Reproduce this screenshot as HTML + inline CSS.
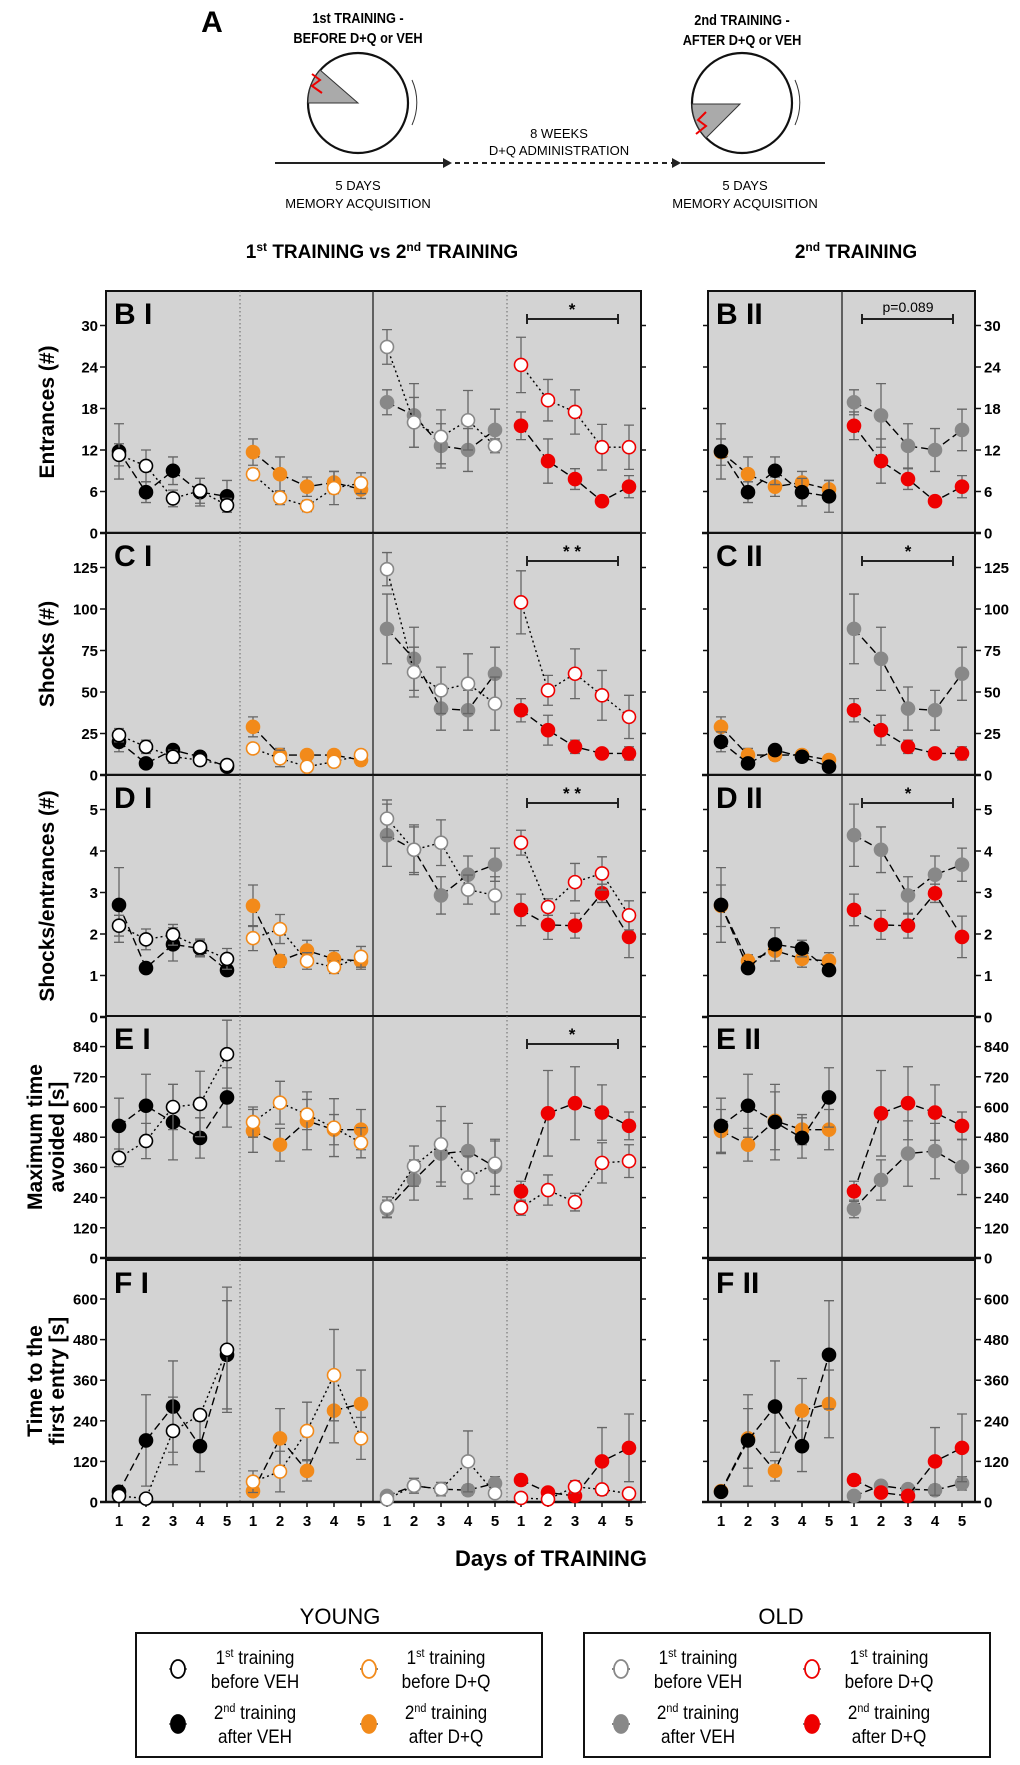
<!DOCTYPE html>
<html><head><meta charset="utf-8">
<style>
html,body{margin:0;padding:0;background:#fff;}
svg{display:block;font-family:"Liberation Sans",Arial,sans-serif;}
</style></head>
<body>
<svg id="fig" width="1020" height="1765" viewBox="0 0 1020 1765" xmlns="http://www.w3.org/2000/svg">
<g>
  <text x="212" y="32" font-size="30" font-weight="bold" text-anchor="middle">A</text>
  <text x="358" y="23" font-size="15" font-weight="bold" text-anchor="middle" transform="translate(358 0) scale(0.85 1) translate(-358 0)">1st TRAINING -</text>
  <text x="358" y="43" font-size="15" font-weight="bold" text-anchor="middle" transform="translate(358 0) scale(0.85 1) translate(-358 0)">BEFORE D+Q or VEH</text>
  <text x="742" y="25" font-size="15" font-weight="bold" text-anchor="middle" transform="translate(742 0) scale(0.85 1) translate(-742 0)">2nd TRAINING -</text>
  <text x="742" y="45" font-size="15" font-weight="bold" text-anchor="middle" transform="translate(742 0) scale(0.85 1) translate(-742 0)">AFTER D+Q or VEH</text>
  <circle cx="358" cy="103" r="50" fill="#fff" stroke="#111" stroke-width="2.2"/>
  <path d="M358 103 L308 103 A50 50 0 0 1 320 70 Z" fill="#aaa" stroke="#333" stroke-width="1"/>
  <path d="M312 74 L320 80 L312 86 L322 93" fill="none" stroke="#e00" stroke-width="2"/>
  <path d="M412 80 A55 55 0 0 1 412 125" fill="none" stroke="#333" stroke-width="1"/>
  <circle cx="742" cy="103" r="50" fill="#fff" stroke="#111" stroke-width="2.2"/>
  <path d="M740 104 L692 104 A50 50 0 0 0 706 138 Z" fill="#aaa" stroke="#333" stroke-width="1"/>
  <path d="M706 112 L698 120 L706 126 L696 134" fill="none" stroke="#e00" stroke-width="2"/>
  <path d="M795 80 A55 55 0 0 1 795 125" fill="none" stroke="#333" stroke-width="1"/>
  <line x1="275" y1="163" x2="445" y2="163" stroke="#222" stroke-width="2"/>
  <polygon points="443,158 452,163 443,168" fill="#222"/>
  <line x1="455" y1="163" x2="672" y2="163" stroke="#222" stroke-width="2" stroke-dasharray="5,4"/>
  <polygon points="672,158 681,163 672,168" fill="#222"/>
  <line x1="681" y1="163" x2="825" y2="163" stroke="#222" stroke-width="2"/>
  <text x="559" y="138" font-size="13" text-anchor="middle">8 WEEKS</text>
  <text x="559" y="155" font-size="13" text-anchor="middle">D+Q ADMINISTRATION</text>
  <text x="358" y="190" font-size="13" text-anchor="middle">5 DAYS</text>
  <text x="358" y="208" font-size="13" text-anchor="middle">MEMORY ACQUISITION</text>
  <text x="745" y="190" font-size="13" text-anchor="middle">5 DAYS</text>
  <text x="745" y="208" font-size="13" text-anchor="middle">MEMORY ACQUISITION</text>
</g>
<text x="382" y="258" font-size="19" font-weight="bold" text-anchor="middle">1<tspan font-size="12" dy="-7">st</tspan><tspan dy="7"> TRAINING   vs  2</tspan><tspan font-size="12" dy="-7">nd</tspan><tspan dy="7"> TRAINING</tspan></text>
<text x="856" y="258" font-size="19" font-weight="bold" text-anchor="middle">2<tspan font-size="12" dy="-7">nd</tspan><tspan dy="7"> TRAINING</tspan></text>
<g id="charts"></g>
<text x="551" y="1566" font-size="22" font-weight="bold" text-anchor="middle">Days of TRAINING</text>
<text x="340" y="1624" font-size="22" text-anchor="middle">YOUNG</text>
<text x="781" y="1624" font-size="22" text-anchor="middle">OLD</text>
<rect x="136" y="1633" width="406" height="124" fill="#fff" stroke="#111" stroke-width="2"/>
<rect x="584" y="1633" width="406" height="124" fill="#fff" stroke="#111" stroke-width="2"/>
<g id="legend"></g>
</svg>
<script>
// ---- data ----
const days = [1, 2, 3, 4, 5];
// B: Entrances
const entYV1 = [11.3, 9.7, 5.0, 6.1, 4.0], entYV1e = [1.6, 2.3, 1.2, 1.8, 1.0];
const entYV2 = [11.8, 5.9, 9.0, 5.9, 5.3], entYV2e = [4.0, 1.5, 2.0, 2.0, 2.3];
const entYD1 = [8.5, 5.1, 3.9, 6.5, 7.2], entYD1e = [0.8, 1.0, 0.8, 2.4, 1.5];
const entYD2 = [11.7, 8.5, 6.7, 7.3, 6.3], entYD2e = [1.9, 2.5, 1.4, 1.6, 1.3];
const entOV1 = [26.9, 16.0, 13.9, 16.3, 12.6], entOV1e = [2.5, 3.6, 3.9, 4.3, 1.0];
const entOV2 = [18.9, 17.0, 12.6, 12.0, 14.9], entOV2e = [1.8, 4.6, 3.2, 3.1, 3.0];
const entOD1 = [24.3, 19.2, 17.5, 12.4, 12.4], entOD1e = [4.0, 3.0, 3.2, 3.3, 3.2];
const entOD2 = [15.5, 10.4, 7.8, 4.6, 6.7], entOD2e = [2.0, 3.2, 1.5, 0.6, 1.6];
// C: Shocks
const shkYV1 = [24, 17, 11, 9, 6], shkYV1e = [4, 4, 4, 3, 2];
const shkYV2 = [20, 7, 15, 11, 5], shkYV2e = [6, 2, 3, 3, 2];
const shkYD1 = [16, 10, 5, 8, 12], shkYD1e = [2, 5, 3, 3, 3];
const shkYD2 = [29, 12, 12, 12, 9], shkYD2e = [6, 4, 3, 3, 3];
const shkOV1 = [124, 62, 51, 55, 43], shkOV1e = [10, 15, 14, 18, 16];
const shkOV2 = [88, 70, 40, 39, 61], shkOV2e = [21, 19, 13, 12, 16];
const shkOD1 = [104, 51, 61, 48, 35], shkOD1e = [19, 9, 15, 15, 13];
const shkOD2 = [39, 27, 17, 13, 13], shkOD2e = [7, 9, 4, 2, 4];
// D: Shocks/entrances
const ratYV1 = [2.2, 1.87, 1.98, 1.68, 1.4], ratYV1e = [0.25, 0.25, 0.25, 0.2, 0.25];
const ratYV2 = [2.7, 1.18, 1.75, 1.65, 1.13], ratYV2e = [0.9, 0.1, 0.4, 0.2, 0.1];
const ratYD1 = [1.9, 2.12, 1.35, 1.2, 1.45], ratYD1e = [0.3, 0.35, 0.2, 0.15, 0.25];
const ratYD2 = [2.68, 1.35, 1.6, 1.4, 1.35], ratYD2e = [0.5, 0.15, 0.25, 0.2, 0.2];
const ratOV1 = [4.78, 4.03, 4.2, 3.07, 2.93], ratOV1e = [0.45, 0.6, 0.55, 0.35, 0.45];
const ratOV2 = [4.38, 4.03, 2.93, 3.43, 3.67], ratOV2e = [0.75, 0.55, 0.45, 0.45, 0.4];
const ratOD1 = [4.2, 2.65, 3.25, 3.46, 2.45], ratOD1e = [0.3, 0.2, 0.45, 0.4, 0.35];
const ratOD2 = [2.58, 2.22, 2.2, 2.98, 1.93], ratOD2e = [0.38, 0.35, 0.3, 0.22, 0.5];
// E: Maximum time avoided
const maxYV1 = [398, 465, 600, 612, 810], maxYV1e = [35, 70, 90, 130, 135];
const maxYV2 = [525, 605, 540, 477, 638], maxYV2e = [110, 125, 150, 80, 118];
const maxYD1 = [540, 617, 570, 518, 458], maxYD1e = [60, 85, 60, 115, 60];
const maxYD2 = [505, 450, 545, 510, 510], maxYD2e = [85, 65, 115, 60, 80];
const maxOV1 = [203, 365, 452, 320, 375], maxOV1e = [40, 80, 150, 85, 90];
const maxOV2 = [195, 310, 415, 425, 362], maxOV2e = [35, 80, 130, 110, 110];
const maxOD1 = [200, 270, 222, 378, 385], maxOD1e = [30, 60, 35, 80, 65];
const maxOD2 = [265, 575, 615, 578, 525], maxOD2e = [40, 170, 145, 110, 55];
// F: Time to first entry
const ftYV1 = [18, 10, 210, 257, 450], ftYV1e = [8, 5, 100, 5, 185];
const ftYV2 = [30, 182, 282, 165, 435], ftYV2e = [10, 135, 135, 75, 160];
const ftYD1 = [60, 90, 210, 375, 188], ftYD1e = [32, 60, 85, 135, 62];
const ftYD2 = [32, 188, 92, 270, 290], ftYD2e = [10, 88, 30, 95, 100];
const ftOV1 = [8, 48, 38, 120, 26], ftOV1e = [10, 22, 20, 90, 10];
const ftOV2 = [18, 48, 38, 35, 55], ftOV2e = [5, 10, 10, 15, 20];
const ftOD1 = [12, 8, 45, 37, 25], ftOD1e = [5, 5, 18, 10, 5];
const ftOD2 = [65, 28, 18, 120, 160], ftOD2e = [15, 10, 10, 100, 100];
// tick labels
const ticksEnt = [0, 6, 12, 18, 24, 30];
const ticksShk = [0, 25, 50, 75, 100, 125];
const ticksRat = [0, 1, 2, 3, 4, 5];
const ticksMax = [0, 120, 240, 360, 480, 600, 720, 840];
const ticksFt = [0, 120, 240, 360, 480, 600];
const rowTitles = [["Entrances (#)"], ["Shocks (#)"], ["Shocks/entrances (#)"], ["Maximum time", "avoided [s]"], ["Time to the", "first entry [s]"]];
const rowLabels = ["B", "C", "D", "E", "F"];
const sigLabels = ["*", "* *", "* *", "*", null];
const sigLabelsII = ["p=0.089", "*", "*", null, null];

const NS = "http://www.w3.org/2000/svg";
const root = document.getElementById('charts');
function mk(tag, attrs, parent) {
  const e = document.createElementNS(NS, tag);
  for (const k in attrs) e.setAttribute(k, attrs[k]);
  (parent || root).appendChild(e);
  return e;
}
const STY = {
  YV1: {stroke: '#000', fill: '#fff', dash: '2,3', lc: '#000'},
  YV2: {stroke: '#000', fill: '#000', dash: '8,4', lc: '#000'},
  YD1: {stroke: '#f28a1a', fill: '#fff', dash: '2,3', lc: '#000'},
  YD2: {stroke: '#f28a1a', fill: '#f28a1a', dash: '8,4', lc: '#000'},
  OV1: {stroke: '#888', fill: '#fff', dash: '2,3', lc: '#000'},
  OV2: {stroke: '#888', fill: '#888', dash: '8,4', lc: '#000'},
  OD1: {stroke: '#e00', fill: '#fff', dash: '2,3', lc: '#000'},
  OD2: {stroke: '#e00', fill: '#e00', dash: '8,4', lc: '#000'}
};
const rows = [
  {zero: 533, ticks: ticksEnt, step: 6, px: 41.5, d: {YV1: [entYV1, entYV1e], YV2: [entYV2, entYV2e], YD1: [entYD1, entYD1e], YD2: [entYD2, entYD2e], OV1: [entOV1, entOV1e], OV2: [entOV2, entOV2e], OD1: [entOD1, entOD1e], OD2: [entOD2, entOD2e]}},
  {zero: 775, ticks: ticksShk, step: 25, px: 41.5, d: {YV1: [shkYV1, shkYV1e], YV2: [shkYV2, shkYV2e], YD1: [shkYD1, shkYD1e], YD2: [shkYD2, shkYD2e], OV1: [shkOV1, shkOV1e], OV2: [shkOV2, shkOV2e], OD1: [shkOD1, shkOD1e], OD2: [shkOD2, shkOD2e]}},
  {zero: 1017, ticks: ticksRat, step: 1, px: 41.5, d: {YV1: [ratYV1, ratYV1e], YV2: [ratYV2, ratYV2e], YD1: [ratYD1, ratYD1e], YD2: [ratYD2, ratYD2e], OV1: [ratOV1, ratOV1e], OV2: [ratOV2, ratOV2e], OD1: [ratOD1, ratOD1e], OD2: [ratOD2, ratOD2e]}},
  {zero: 1258, ticks: ticksMax, step: 120, px: 30.2, d: {YV1: [maxYV1, maxYV1e], YV2: [maxYV2, maxYV2e], YD1: [maxYD1, maxYD1e], YD2: [maxYD2, maxYD2e], OV1: [maxOV1, maxOV1e], OV2: [maxOV2, maxOV2e], OD1: [maxOD1, maxOD1e], OD2: [maxOD2, maxOD2e]}},
  {zero: 1502, ticks: ticksFt, step: 120, px: 40.6, d: {YV1: [ftYV1, ftYV1e], YV2: [ftYV2, ftYV2e], YD1: [ftYD1, ftYD1e], YD2: [ftYD2, ftYD2e], OV1: [ftOV1, ftOV1e], OV2: [ftOV2, ftOV2e], OD1: [ftOD1, ftOD1e], OD2: [ftOD2, ftOD2e]}}
];
const L = {x0: 106, x1: 641}, R = {x0: 708, x1: 975};
function xI(g, d) { return 119 + g * 134 + (d - 1) * 27; }
function xII(g, d) { return 721 + g * 133 + (d - 1) * 27; }

function drawSeries(g, key, vals, errs, xf, yf, grp) {
  const s = STY[key];
  const gg = mk('g', {}, g);
  
  
  vals.forEach((v, i) => {
    const x = xf(days[i]), y1 = yf(v + errs[i]), y2 = yf(Math.max(0, v - errs[i]));
    const eb = mk('path', {d: `M${x} ${y1}V${y2}M${x - 5} ${y1}H${x + 5}M${x - 5} ${y2}H${x + 5}`, stroke: '#666', 'stroke-width': 1.3, fill: 'none'}, gg);
    
    
  });
  let d = '';
  vals.forEach((v, i) => { d += (i ? 'L' : 'M') + xf(days[i]) + ' ' + yf(v); });
  const ln = mk('path', {d: d, fill: 'none', stroke: s.lc, 'stroke-width': 1.4, 'stroke-dasharray': s.dash}, gg);
  
  
  vals.forEach((v, i) => {
    const c = mk('circle', {cx: xf(days[i]), cy: yf(v), r: 6.5, fill: s.fill, stroke: s.stroke, 'stroke-width': 1.6}, gg);
    
    
  });
}

rows.forEach((row, ri) => {
  const top = row.zero - 242;
  const yf = v => row.zero - v / row.step * row.px;
  const rg = mk('g', {});
  
  
  const bgI = mk('rect', {x: L.x0, y: top, width: L.x1 - L.x0, height: 242, fill: '#d3d3d3', stroke: '#111', 'stroke-width': 2}, rg);
  
  
  const bgII = mk('rect', {x: R.x0, y: top, width: R.x1 - R.x0, height: 242, fill: '#d3d3d3', stroke: '#111', 'stroke-width': 2}, rg);
  
  
  mk('line', {x1: 240, x2: 240, y1: top, y2: row.zero, stroke: '#666', 'stroke-width': 1, 'stroke-dasharray': '1.5,2.5'}, rg);
  mk('line', {x1: 507, x2: 507, y1: top, y2: row.zero, stroke: '#666', 'stroke-width': 1, 'stroke-dasharray': '1.5,2.5'}, rg);
  mk('line', {x1: 373, x2: 373, y1: top, y2: row.zero, stroke: '#222', 'stroke-width': 1.3}, rg);
  mk('line', {x1: 842, x2: 842, y1: top, y2: row.zero, stroke: '#222', 'stroke-width': 1.3}, rg);
  mk('line', {x1: L.x0 - 6, x2: L.x1 + 1, y1: row.zero, y2: row.zero, stroke: '#111', 'stroke-width': 2.5}, rg);
  mk('line', {x1: R.x0 - 6, x2: R.x1 + 6, y1: row.zero, y2: row.zero, stroke: '#111', 'stroke-width': 2.5}, rg);
  for (let g = 0; g < 4; g++) days.forEach(d => mk('line', {x1: xI(g, d), x2: xI(g, d), y1: row.zero, y2: row.zero + 5, stroke: '#111', 'stroke-width': 1.5}, rg));
  for (let g = 0; g < 2; g++) days.forEach(d => mk('line', {x1: xII(g, d), x2: xII(g, d), y1: row.zero, y2: row.zero + 5, stroke: '#111', 'stroke-width': 1.5}, rg));
  row.ticks.forEach(t => {
    const y = yf(t);
    mk('line', {x1: L.x0 - 6, x2: L.x0, y1: y, y2: y, stroke: '#111', 'stroke-width': 1.5}, rg);
    mk('line', {x1: L.x1, x2: L.x1 + 5, y1: y, y2: y, stroke: '#111', 'stroke-width': 1.5}, rg);
    mk('line', {x1: R.x0 - 5, x2: R.x0, y1: y, y2: y, stroke: '#111', 'stroke-width': 1.5}, rg);
    mk('line', {x1: R.x1, x2: R.x1 + 6, y1: y, y2: y, stroke: '#111', 'stroke-width': 1.5}, rg);
    const tl = mk('text', {x: L.x0 - 8, y: y + 5.5, 'font-size': 15, 'font-weight': 'bold', 'text-anchor': 'end'}, rg);
    tl.textContent = t;
    
    
    const tr = mk('text', {x: R.x1 + 9, y: y + 5.5, 'font-size': 15, 'font-weight': 'bold', 'text-anchor': 'start'}, rg);
    tr.textContent = t;
    
    
  });
  const lines = rowTitles[ri];
  const cy = top + 121;
  lines.forEach((ln, li) => {
    const xx = lines.length === 1 ? 47 : 35 + li * 22;
    const t = mk('text', {x: xx, y: cy + 7, 'font-size': 21, 'font-weight': 'bold', 'text-anchor': 'middle', transform: `rotate(-90 ${xx} ${cy})`}, rg);
    t.textContent = ln;
    
    
  });
  const pl = mk('text', {x: 114, y: top + 33, 'font-size': 30, 'font-weight': 'bold'}, rg);
  pl.textContent = rowLabels[ri] + ' I';
  
  
  const pl2 = mk('text', {x: 716, y: top + 33, 'font-size': 30, 'font-weight': 'bold'}, rg);
  pl2.textContent = rowLabels[ri] + ' II';
  
  
  if (sigLabels[ri]) {
    const by = top + 28;
    mk('path', {d: `M527 ${by - 5}V${by + 5}M527 ${by}H618M618 ${by - 5}V${by + 5}`, stroke: '#222', 'stroke-width': 2, fill: 'none'}, rg);
    const st = mk('text', {x: 572, y: by - 4, 'font-size': 17, 'font-weight': 'bold', 'text-anchor': 'middle'}, rg);
    st.textContent = sigLabels[ri];
    
    
  }
  if (sigLabelsII[ri]) {
    const by = top + 28;
    mk('path', {d: `M862 ${by - 5}V${by + 5}M862 ${by}H953M953 ${by - 5}V${by + 5}`, stroke: '#222', 'stroke-width': 2, fill: 'none'}, rg);
    const isP = sigLabelsII[ri].length > 2;
    const st = mk('text', {x: 908, y: by - (isP ? 7 : 4), 'font-size': isP ? 14 : 17, 'font-weight': isP ? 'normal' : 'bold', 'text-anchor': 'middle'}, rg);
    st.textContent = sigLabelsII[ri];
    
    
  }
  const grpI = [['YV1', 'YV2'], ['YD1', 'YD2'], ['OV1', 'OV2'], ['OD1', 'OD2']];
  grpI.forEach((ks, g) => {
    [ks[1], ks[0]].forEach(k => drawSeries(rg, k, row.d[k][0], row.d[k][1], d => xI(g, d), yf, g + 1));
  });
  drawSeries(rg, 'YD2', row.d.YD2[0], row.d.YD2[1], d => xII(0, d), yf, 'ii1');
  drawSeries(rg, 'YV2', row.d.YV2[0], row.d.YV2[1], d => xII(0, d), yf, 'ii1');
  drawSeries(rg, 'OV2', row.d.OV2[0], row.d.OV2[1], d => xII(1, d), yf, 'ii2');
  drawSeries(rg, 'OD2', row.d.OD2[0], row.d.OD2[1], d => xII(1, d), yf, 'ii2');
  if (ri === rows.length - 1) {
    for (let g = 0; g < 4; g++) days.forEach(d => {
      const t = mk('text', {x: xI(g, d), y: 1526, 'font-size': 15, 'font-weight': 'bold', 'text-anchor': 'middle'}, rg);
      t.textContent = d;
      
      
    });
    for (let g = 0; g < 2; g++) days.forEach(d => {
      const t = mk('text', {x: xII(g, d), y: 1526, 'font-size': 15, 'font-weight': 'bold', 'text-anchor': 'middle'}, rg);
      t.textContent = d;
      
      
    });
  }
});

const lg = document.getElementById('legend');
const legendItems = [
  ['YV1', 178, 1669, '1', 'st', 'before VEH'], ['YV2', 178, 1724, '2', 'nd', 'after VEH'],
  ['YD1', 369, 1669, '1', 'st', 'before D+Q'], ['YD2', 369, 1724, '2', 'nd', 'after D+Q'],
  ['OV1', 621, 1669, '1', 'st', 'before VEH'], ['OV2', 621, 1724, '2', 'nd', 'after VEH'],
  ['OD1', 812, 1669, '1', 'st', 'before D+Q'], ['OD2', 812, 1724, '2', 'nd', 'after D+Q']
];
legendItems.forEach(it => {
  const s = STY[it[0]];
  const g = mk('g', {}, lg);
  
  
  mk('line', {x1: it[1] - 9, x2: it[1] + 9, y1: it[2], y2: it[2], stroke: '#000', 'stroke-width': 1}, g);
  mk('ellipse', {cx: it[1], cy: it[2], rx: 7, ry: 9, fill: s.fill, stroke: s.stroke, 'stroke-width': 1.8}, g);
  const tx = it[1] + 77;
  const t1 = mk('text', {x: tx, y: it[2] - 5, 'font-size': 19, 'text-anchor': 'middle', transform: `translate(${tx} 0) scale(0.9 1) translate(${-tx} 0)`}, g);
  t1.innerHTML = it[3] + '<tspan font-size="12" dy="-7">' + it[4] + '</tspan><tspan dy="7"> training</tspan>';
  const t2 = mk('text', {x: tx, y: it[2] + 19, 'font-size': 19, 'text-anchor': 'middle', transform: `translate(${tx} 0) scale(0.9 1) translate(${-tx} 0)`}, g);
  t2.textContent = it[5];
});
</script>
</body></html>
